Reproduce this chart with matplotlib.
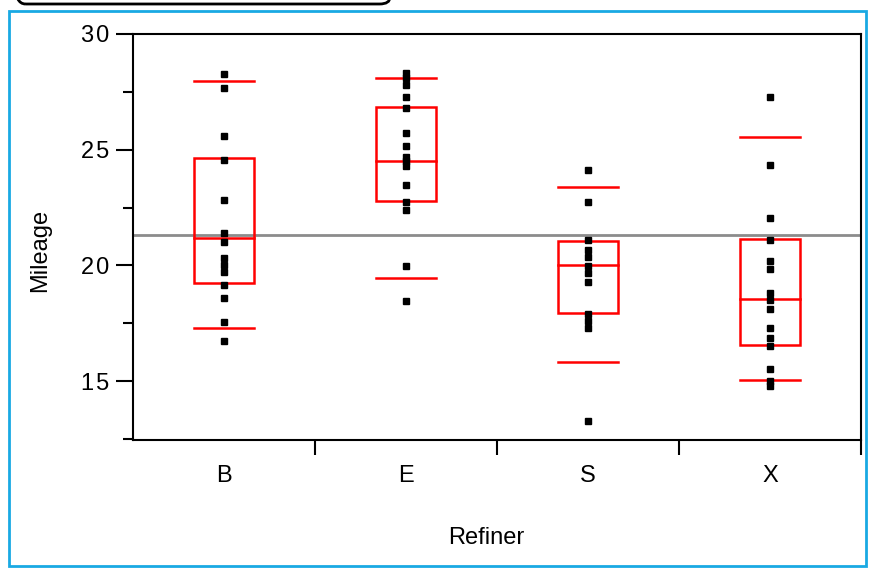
import matplotlib.pyplot as plt
from matplotlib.patches import Rectangle, FancyBboxPatch

plt.rcParams['font.family'] = ['Liberation Sans', 'DejaVu Sans']

refiners = ['B', 'E', 'S', 'X']
mileage = {
    'B': [28.27, 27.66, 25.58, 24.55, 22.81, 21.38, 21.0, 20.3, 20.0, 19.7, 19.13, 18.57, 17.53, 16.71],
    'E': [28.3, 28.1, 27.8, 27.27, 26.8, 25.71, 25.15, 24.7, 24.5, 24.3, 23.46, 22.73, 22.4, 19.96, 18.44],
    'S': [24.11, 22.73, 21.08, 20.65, 20.35, 19.96, 19.65, 19.26, 17.88, 17.6, 17.3, 13.25],
    'X': [27.27, 24.33, 22.03, 21.08, 20.17, 19.83, 18.79, 18.5, 18.1, 17.27, 16.84, 16.5, 15.5, 15.0, 14.8],
}
# quantile box: 10%, 25%, 50%, 75%, 90%
q10 = [17.27, 19.44, 15.84, 15.06]
q25 = [19.22, 22.77, 17.92, 16.54]
q50 = [21.17, 24.5, 20.0, 18.53]
q75 = [24.63, 26.84, 21.04, 21.13]
q90 = [27.97, 28.1, 23.38, 25.54]
grand_mean = 21.3

fig = plt.figure(figsize=(8.7, 5.69), dpi=100)
ax = fig.add_axes([133 / 870, 1 - 440 / 569, 728 / 870, 406 / 569])

w = 0.33
for i, r in enumerate(refiners):
    ax.add_patch(Rectangle((i - w / 2, q25[i]), w, q75[i] - q25[i], fill=False, ec='red', lw=1.8, zorder=2))
    for v in (q10[i], q50[i], q90[i]):
        ax.plot([i - w / 2, i + w / 2], [v, v], color='red', lw=1.8, zorder=2)
    ax.plot([i] * len(mileage[r]), mileage[r], 's', color='black', ms=4.2, zorder=3)

ax.axhline(grand_mean, color='#8c8c8c', lw=2, zorder=1)

ax.set_xlim(-0.5, 3.5)
ax.set_ylim(12.45, 30)
ax.set_yticks([15, 20, 25, 30])
ax.set_yticklabels(['1\u200a5', '2\u200a0', '2\u200a5', '3\u200a0'])
ax.set_yticks([12.5, 17.5, 22.5, 27.5], minor=True)
ax.tick_params(axis='y', which='major', length=12, width=1.5, labelsize=17, pad=5)
ax.tick_params(axis='y', which='minor', length=7, width=1.5)
ax.set_xticks([0.5, 1.5, 2.5, 3.5])
ax.set_xticklabels([])
ax.tick_params(axis='x', which='major', length=11, width=1.5)
ax.set_xticks(range(4), minor=True)
ax.set_xticklabels(refiners, minor=True)
ax.tick_params(axis='x', which='minor', length=0, labelsize=17, pad=18)
for s in ax.spines.values():
    s.set_linewidth(1.5)

ax.set_ylabel('Mileage', fontsize=17, va='center')
ax.yaxis.set_label_coords(-0.128, 0.468)
ax.set_xlabel('Refiner', fontsize=17, va='center')
ax.xaxis.set_label_coords(0.485, -0.241)

fig.patches.append(Rectangle((9 / 870, 3 / 569), 857 / 870, 555 / 569, transform=fig.transFigure,
                             fill=False, ec='#19a9e3', lw=2))
bar = FancyBboxPatch((15 / 870, 1 - 4 / 569), 375 / 870, 0.05, transform=fig.transFigure,
                     boxstyle='round,pad=0,rounding_size=0.012', fill=False, ec='black', lw=2,
                     clip_on=False)
fig.patches.append(bar)

fig.savefig('out.png', dpi=100)
